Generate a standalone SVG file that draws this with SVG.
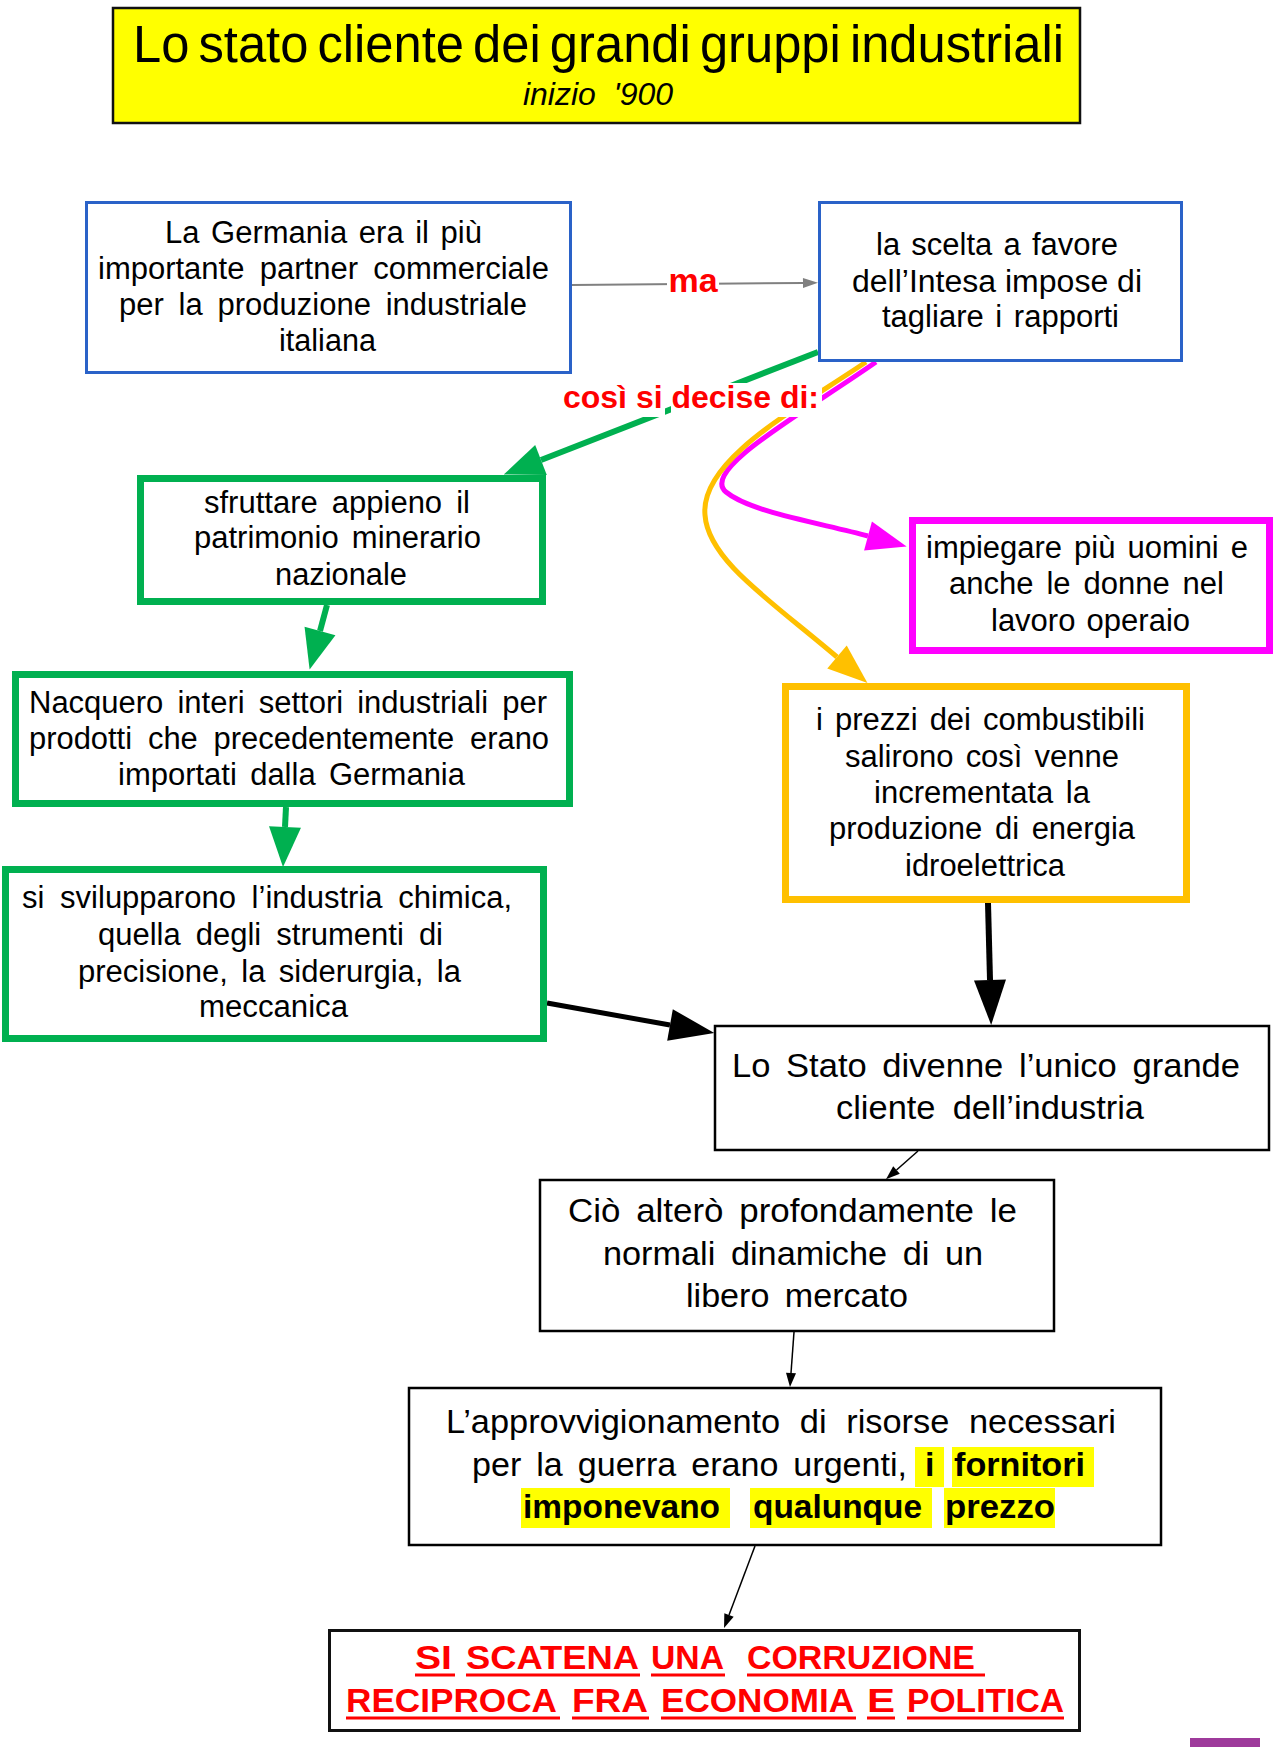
<svg xmlns="http://www.w3.org/2000/svg" width="1276" height="1747" viewBox="0 0 1276 1747">
<style>
.t{font-family:"Liberation Sans",Arial,sans-serif;fill:#000}
.s31{font-size:31px}
.s34{font-size:34px}
.b{font-weight:bold}
.red{fill:#F00;font-weight:bold}
.box{fill:#fff}
.blue{stroke:#2A62C8;stroke-width:3}
.green{stroke:#00B050;stroke-width:7}
.orange{stroke:#FFC000;stroke-width:7}
.pink{stroke:#FF00FF;stroke-width:7}
.black{stroke:#000;stroke-width:2.5}
.hl{fill:#FFFF00}
.ul{stroke:#F00;stroke-width:3}
</style>
<defs>
<marker id="ahGreen" markerUnits="userSpaceOnUse" markerWidth="40" markerHeight="32" refX="0" refY="16" orient="auto" overflow="visible"><path d="M0,0 L40,16 L0,32 Z" fill="#00B050"/></marker>
<marker id="ahOrange" markerUnits="userSpaceOnUse" markerWidth="40" markerHeight="30" refX="0" refY="15" orient="auto" overflow="visible"><path d="M0,0 L40,15 L0,30 Z" fill="#FFC000"/></marker>
<marker id="ahPink" markerUnits="userSpaceOnUse" markerWidth="40" markerHeight="30" refX="0" refY="15" orient="auto" overflow="visible"><path d="M0,0 L40,15 L0,30 Z" fill="#FF00FF"/></marker>
<marker id="ahBlack" markerUnits="userSpaceOnUse" markerWidth="45" markerHeight="32" refX="0" refY="16" orient="auto" overflow="visible"><path d="M0,0 L45,16 L0,32 Z" fill="#000"/></marker>
<marker id="ahThin" markerUnits="userSpaceOnUse" markerWidth="14" markerHeight="10" refX="0" refY="5" orient="auto" overflow="visible"><path d="M0,0 L14,5 L0,10 Z" fill="#000"/></marker>
<marker id="ahGray" markerUnits="userSpaceOnUse" markerWidth="15" markerHeight="10" refX="0" refY="5" orient="auto" overflow="visible"><path d="M0,0 L15,5 L0,10 Z" fill="#808080"/></marker>
</defs>
<rect width="1276" height="1747" fill="#fff"/>

<g id="title">
<rect x="113" y="8" width="967" height="115" fill="#FFFF00" stroke="#111" stroke-width="2.5"/>
<text class="t" x="133" y="62" font-size="51" word-spacing="-5" textLength="931" lengthAdjust="spacingAndGlyphs">Lo stato cliente dei grandi gruppi industriali</text>
<text class="t" x="598" y="105" font-size="32" font-style="italic" text-anchor="middle" xml:space="preserve">inizio  '900</text>
</g>

<g id="connectors">
<path d="M572,285 L803,283" fill="none" stroke="#808080" stroke-width="2" marker-end="url(#ahGray)"/>
<path d="M818,352 L541,460" fill="none" stroke="#00B050" stroke-width="6" marker-end="url(#ahGreen)"/>
<path d="M876,362 C800,415 700,470 726,492 C750,512 820,523 868,536" fill="none" stroke="#FF00FF" stroke-width="5" marker-end="url(#ahPink)"/>
<path d="M866,362 C795,410 700,460 705,515 C708,560 770,600 837,657" fill="none" stroke="#FFC000" stroke-width="5" marker-end="url(#ahOrange)"/>
<path d="M327,605 L320,631" fill="none" stroke="#00B050" stroke-width="6" marker-end="url(#ahGreen)"/>
<path d="M286,807 L285,827" fill="none" stroke="#00B050" stroke-width="6" marker-end="url(#ahGreen)"/>
<path d="M547,1003 L670,1025" fill="none" stroke="#000" stroke-width="5" marker-end="url(#ahBlack)"/>
<path d="M988,903 L990,980" fill="none" stroke="#000" stroke-width="6" marker-end="url(#ahBlack)"/>
<path d="M918,1151 L896.5,1170" fill="none" stroke="#000" stroke-width="1.5" marker-end="url(#ahThin)"/>
<path d="M794,1332 L791,1373" fill="none" stroke="#000" stroke-width="1.5" marker-end="url(#ahThin)"/>
<path d="M755,1546 L729,1615" fill="none" stroke="#000" stroke-width="1.5" marker-end="url(#ahThin)"/>
<g id="label-ma">
<rect x="667" y="268" width="52" height="30" fill="#fff"/>
<text class="t red" x="693" y="292" font-size="34" text-anchor="middle">ma</text>
</g>
<g id="label-cosi">
<rect x="561" y="383" width="68" height="34" fill="#fff"/>
<rect x="634" y="383" width="31" height="34" fill="#fff"/>
<rect x="671" y="383" width="103" height="34" fill="#fff"/>
<rect x="778" y="383" width="44" height="34" fill="#fff"/>
<text class="t red" x="563" y="408" font-size="32" textLength="256" lengthAdjust="spacingAndGlyphs">così si decise di:</text>
</g>
</g>

<g id="node-germania">
<rect class="box blue" x="86.5" y="202.5" width="484" height="170"/>
<text class="t s31" x="165" y="243" word-spacing="3" textLength="317" lengthAdjust="spacingAndGlyphs">La Germania era il più</text>
<text class="t s31" x="98" y="279" word-spacing="6.7" textLength="451" lengthAdjust="spacingAndGlyphs">importante partner commerciale</text>
<text class="t s31" x="119" y="315" word-spacing="6.2" textLength="408" lengthAdjust="spacingAndGlyphs">per la produzione industriale</text>
<text class="t s31" x="279" y="351" textLength="97" lengthAdjust="spacingAndGlyphs">italiana</text>
</g>

<g id="node-scelta">
<rect class="box blue" x="819.5" y="202.5" width="362" height="158"/>
<text class="t s31" x="876" y="255" word-spacing="2.6" textLength="242" lengthAdjust="spacingAndGlyphs">la scelta a favore</text>
<text class="t s31" x="852" y="292" textLength="290" lengthAdjust="spacingAndGlyphs">dell’Intesa impose di</text>
<text class="t s31" x="882" y="327" word-spacing="3" textLength="237" lengthAdjust="spacingAndGlyphs">tagliare i rapporti</text>
</g>

<g id="node-sfruttare">
<rect class="box green" x="140.5" y="478.5" width="402" height="123"/>
<text class="t s31" x="204" y="513" word-spacing="5.5" textLength="266" lengthAdjust="spacingAndGlyphs">sfruttare appieno il</text>
<text class="t s31" x="194" y="548" word-spacing="4.5" textLength="287" lengthAdjust="spacingAndGlyphs">patrimonio minerario</text>
<text class="t s31" x="275" y="585" textLength="132" lengthAdjust="spacingAndGlyphs">nazionale</text>
</g>

<g id="node-impiegare">
<rect class="box pink" x="912.5" y="520.5" width="357" height="130"/>
<text class="t s31" x="926" y="558" word-spacing="3.4" textLength="322" lengthAdjust="spacingAndGlyphs">impiegare più uomini e</text>
<text class="t s31" x="949" y="594" word-spacing="4.3" textLength="275" lengthAdjust="spacingAndGlyphs">anche le donne nel</text>
<text class="t s31" x="991" y="631" word-spacing="2.6" textLength="199" lengthAdjust="spacingAndGlyphs">lavoro operaio</text>
</g>

<g id="node-nacquero">
<rect class="box green" x="15.5" y="674.5" width="554" height="129"/>
<text class="t s31" x="29" y="713" word-spacing="5.5" textLength="518" lengthAdjust="spacingAndGlyphs">Nacquero interi settori industriali per</text>
<text class="t s31" x="29" y="749" word-spacing="7.3" textLength="520" lengthAdjust="spacingAndGlyphs">prodotti che precedentemente erano</text>
<text class="t s31" x="118" y="785" word-spacing="4.7" textLength="347" lengthAdjust="spacingAndGlyphs">importati dalla Germania</text>
</g>

<g id="node-prezzi">
<rect class="box orange" x="785.5" y="686.5" width="401" height="213"/>
<text class="t s31" x="816" y="730" word-spacing="3.4" textLength="329" lengthAdjust="spacingAndGlyphs">i prezzi dei combustibili</text>
<text class="t s31" x="845" y="767" word-spacing="3.5" textLength="274" lengthAdjust="spacingAndGlyphs">salirono così venne</text>
<text class="t s31" x="874" y="803" word-spacing="4" textLength="216" lengthAdjust="spacingAndGlyphs">incrementata la</text>
<text class="t s31" x="829" y="839" word-spacing="4" textLength="306" lengthAdjust="spacingAndGlyphs">produzione di energia</text>
<text class="t s31" x="905" y="876" textLength="160" lengthAdjust="spacingAndGlyphs">idroelettrica</text>
</g>

<g id="node-sviluppo">
<rect class="box green" x="5.5" y="869.5" width="538" height="169"/>
<text class="t s31" x="22" y="908" word-spacing="7.1" textLength="490" lengthAdjust="spacingAndGlyphs">si svilupparono l’industria chimica,</text>
<text class="t s31" x="98" y="945" word-spacing="6.5" textLength="345" lengthAdjust="spacingAndGlyphs">quella degli strumenti di</text>
<text class="t s31" x="78" y="982" word-spacing="4.8" textLength="383" lengthAdjust="spacingAndGlyphs">precisione, la siderurgia, la</text>
<text class="t s31" x="199" y="1017" textLength="149" lengthAdjust="spacingAndGlyphs">meccanica</text>
</g>

<g id="node-stato">
<rect class="box black" x="715" y="1026" width="554" height="124"/>
<text class="t s34" x="732" y="1077" word-spacing="6" textLength="508" lengthAdjust="spacingAndGlyphs">Lo Stato divenne l’unico grande</text>
<text class="t s34" x="836" y="1119" word-spacing="7.5" textLength="308" lengthAdjust="spacingAndGlyphs">cliente dell’industria</text>
</g>

<g id="node-cio">
<rect class="box black" x="540" y="1180" width="514" height="151"/>
<text class="t s34" x="568" y="1222" word-spacing="6" textLength="449" lengthAdjust="spacingAndGlyphs">Ciò alterò profondamente le</text>
<text class="t s34" x="603" y="1265" word-spacing="6" textLength="380" lengthAdjust="spacingAndGlyphs">normali dinamiche di un</text>
<text class="t s34" x="686" y="1307" word-spacing="6" textLength="222" lengthAdjust="spacingAndGlyphs">libero mercato</text>
</g>

<g id="node-approvvigionamento">
<rect class="box black" x="409" y="1388" width="752" height="157"/>
<rect class="hl" x="915" y="1447" width="29" height="40"/>
<rect class="hl" x="952" y="1447" width="142" height="40"/>
<rect class="hl" x="521" y="1488" width="209" height="40"/>
<rect class="hl" x="750" y="1488" width="182" height="40"/>
<rect class="hl" x="944" y="1488" width="111" height="40"/>
<text class="t s34" x="446" y="1433" word-spacing="10" textLength="670" lengthAdjust="spacingAndGlyphs">L’approvvigionamento di risorse necessari</text>
<text class="t s34" x="472" y="1476" word-spacing="5.5" textLength="435" lengthAdjust="spacingAndGlyphs">per la guerra erano urgenti,</text>
<text class="t s34 b" x="925" y="1476">i</text>
<text class="t s34 b" x="954" y="1476" textLength="131" lengthAdjust="spacingAndGlyphs">fornitori</text>
<text class="t s34 b" x="523" y="1518" textLength="197" lengthAdjust="spacingAndGlyphs">imponevano</text>
<text class="t s34 b" x="753" y="1518" textLength="169" lengthAdjust="spacingAndGlyphs">qualunque</text>
<text class="t s34 b" x="945" y="1518" textLength="110" lengthAdjust="spacingAndGlyphs">prezzo</text>
</g>

<g id="node-corruzione">
<rect class="box" x="329.5" y="1630.5" width="750" height="100" stroke="#111" stroke-width="3"/>
<text class="t red" font-size="34" x="415" y="1669" textLength="37" lengthAdjust="spacingAndGlyphs">SI</text>
<text class="t red" font-size="34" x="466" y="1669" textLength="173" lengthAdjust="spacingAndGlyphs">SCATENA</text>
<text class="t red" font-size="34" x="651" y="1669" textLength="73" lengthAdjust="spacingAndGlyphs">UNA</text>
<text class="t red" font-size="34" x="747" y="1669" textLength="228" lengthAdjust="spacingAndGlyphs">CORRUZIONE</text>
<text class="t red" font-size="34" x="346" y="1712" textLength="211" lengthAdjust="spacingAndGlyphs">RECIPROCA</text>
<text class="t red" font-size="34" x="572" y="1712" textLength="76" lengthAdjust="spacingAndGlyphs">FRA</text>
<text class="t red" font-size="34" x="661" y="1712" textLength="193" lengthAdjust="spacingAndGlyphs">ECONOMIA</text>
<text class="t red" font-size="34" x="867" y="1712" textLength="28" lengthAdjust="spacingAndGlyphs">E</text>
<text class="t red" font-size="34" x="907" y="1712" textLength="157" lengthAdjust="spacingAndGlyphs">POLITICA</text>
<line class="ul" x1="415" y1="1675" x2="455" y2="1675"/>
<line class="ul" x1="466" y1="1675" x2="640" y2="1675"/>
<line class="ul" x1="651" y1="1675" x2="725" y2="1675"/>
<line class="ul" x1="747" y1="1675" x2="985" y2="1675"/>
<line class="ul" x1="346" y1="1718" x2="560" y2="1718"/>
<line class="ul" x1="572" y1="1718" x2="649" y2="1718"/>
<line class="ul" x1="661" y1="1718" x2="856" y2="1718"/>
<line class="ul" x1="867" y1="1718" x2="895" y2="1718"/>
<line class="ul" x1="907" y1="1718" x2="1064" y2="1718"/>
</g>

<rect x="1190" y="1738" width="70" height="9" fill="#9E3A9B"/>
</svg>
